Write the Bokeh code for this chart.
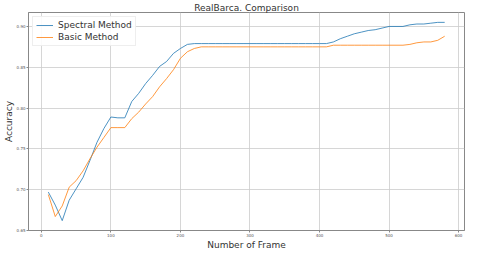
from bokeh.plotting import figure
from bokeh.models import Range1d, FixedTicker, Legend, LegendItem
from bokeh.embed import file_html
from bokeh.resources import INLINE

frames = [10, 20, 30, 40, 50, 60, 70, 80, 90, 100, 110, 120, 130, 140, 150, 160, 170, 180, 190, 200,
          210, 220, 230, 240, 250, 260, 270, 280, 290, 300, 310, 320, 330, 340, 350, 360, 370, 380, 390, 400,
          410, 420, 430, 440, 450, 460, 470, 480, 490, 500, 510, 520, 530, 540, 550, 560, 570, 580]

spectral = [0.697, 0.681, 0.662, 0.687, 0.701, 0.715, 0.736, 0.758, 0.775, 0.789,
            0.788, 0.788, 0.808, 0.818, 0.830, 0.840, 0.851, 0.857, 0.867, 0.873,
            0.878, 0.879, 0.879, 0.879, 0.879, 0.879, 0.879, 0.879, 0.879, 0.879,
            0.879, 0.879, 0.879, 0.879, 0.879, 0.879, 0.879, 0.879, 0.879, 0.879,
            0.879, 0.881, 0.885, 0.888, 0.891, 0.893, 0.895, 0.896, 0.898, 0.900,
            0.900, 0.900, 0.902, 0.903, 0.903, 0.904, 0.905, 0.905]

basic = [0.694, 0.667, 0.680, 0.703, 0.711, 0.723, 0.738, 0.752, 0.764, 0.776,
         0.776, 0.776, 0.787, 0.795, 0.805, 0.814, 0.826, 0.836, 0.847, 0.861,
         0.869, 0.873, 0.875, 0.875, 0.875, 0.875, 0.875, 0.875, 0.875, 0.875,
         0.875, 0.875, 0.875, 0.875, 0.875, 0.875, 0.875, 0.875, 0.875, 0.875,
         0.875, 0.877, 0.877, 0.877, 0.877, 0.877, 0.877, 0.877, 0.877, 0.877,
         0.877, 0.877, 0.878, 0.880, 0.881, 0.881, 0.883, 0.888]

x_ticks = [0, 100, 200, 300, 400, 500, 600]
y_ticks = [0.65, 0.70, 0.75, 0.80, 0.85, 0.90]

FONT = "DejaVu Sans"

p = figure(frame_width=436, frame_height=218, output_backend="svg", toolbar_location=None,
           x_range=Range1d(-18.5, 608.5), y_range=Range1d(0.6499, 0.9171),
           title="RealBarca. Comparison",
           min_border_left=0, min_border_right=2, min_border_top=0, min_border_bottom=0)

p.title.align = "center"
p.title.text_font = FONT
p.title.text_font_style = "normal"
p.title.text_font_size = "9px"
p.title.text_color = "#333333"
p.title.standoff = 0
p.title.offset = 0

l1 = p.line(frames, spectral, line_color="#1f77b4", line_width=0.8)
l2 = p.line(frames, basic, line_color="#ff7f0e", line_width=0.8)

legend = Legend(items=[LegendItem(label="Spectral Method", renderers=[l1]),
                       LegendItem(label="Basic Method", renderers=[l2])],
                location="top_left")
legend.label_text_font = FONT
legend.label_text_font_size = "9px"
legend.label_text_color = "#333333"
legend.glyph_width = 17
legend.glyph_height = 10
legend.label_height = 10
legend.label_standoff = 5
legend.spacing = 2
legend.padding = 3
legend.margin = 4
legend.border_line_color = "#dddddd"
legend.background_fill_alpha = 0.9
p.add_layout(legend)

p.xaxis.ticker = FixedTicker(ticks=x_ticks)
p.yaxis.ticker = FixedTicker(ticks=y_ticks)
p.yaxis.major_label_overrides = {t: "%.2f" % t for t in y_ticks}
p.xaxis.axis_label = "Number of Frame"
p.yaxis.axis_label = "Accuracy"
for ax in (p.xaxis[0], p.yaxis[0]):
    ax.axis_label_text_font = FONT
    ax.axis_label_text_font_style = "normal"
    ax.axis_label_text_font_size = "9px"
    ax.axis_label_text_color = "#333333"
    ax.axis_label_standoff = 0
    ax.major_label_text_font = FONT
    ax.major_label_text_font_size = "4px"
    ax.major_label_text_color = "#555555"
    ax.major_label_standoff = 1
    ax.major_tick_out = 2
    ax.major_tick_in = 0
    ax.minor_tick_out = 0
    ax.minor_tick_in = 0
    ax.axis_line_color = "#888888"
    ax.major_tick_line_color = "#888888"

p.outline_line_color = "#888888"
p.grid.grid_line_color = "#cccccc"
p.grid.grid_line_width = 0.8

open("out.html", "w").write(file_html(p, INLINE))
